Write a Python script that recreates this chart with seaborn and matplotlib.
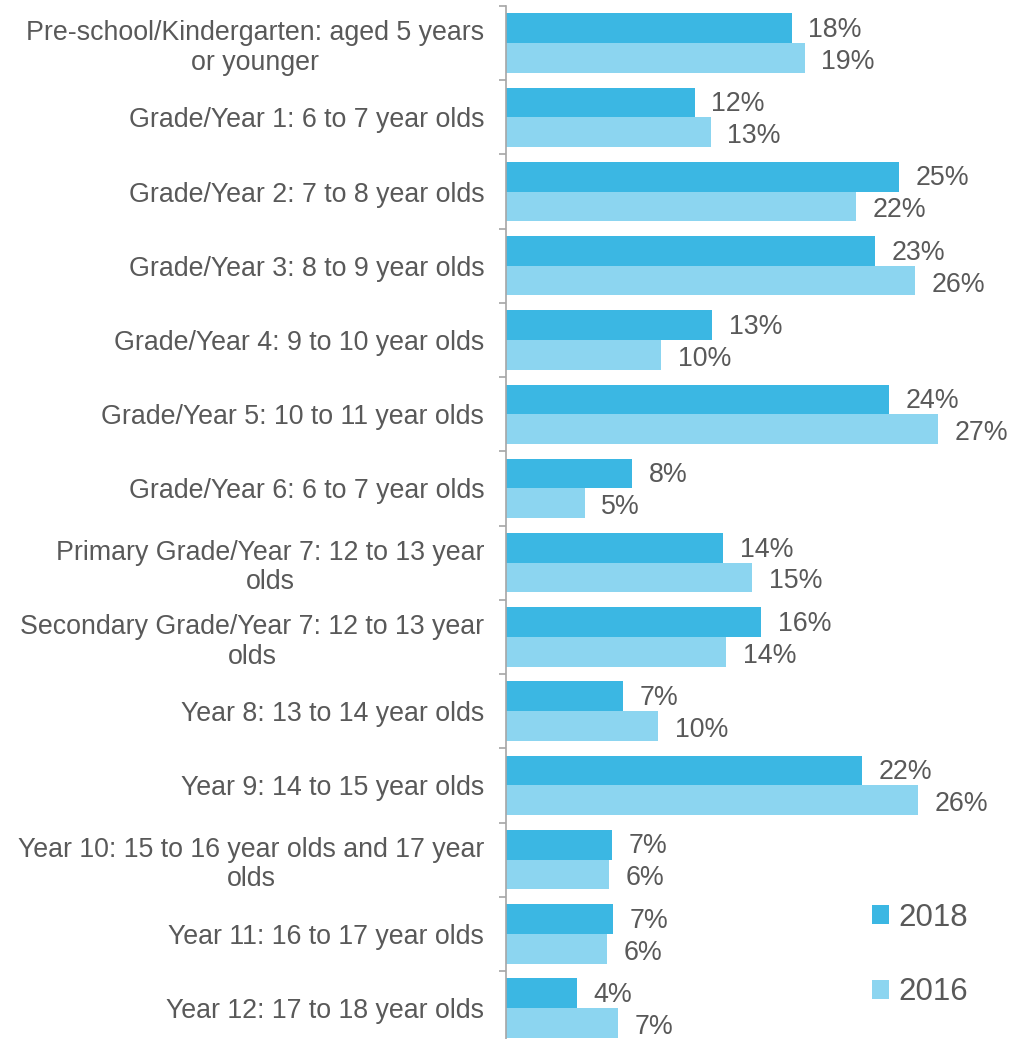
import numpy as np
import pandas as pd
import matplotlib
matplotlib.use("Agg")
from matplotlib import pyplot as plt
from matplotlib.patches import Patch
import seaborn as sns

# Categories (top to bottom)
categories = [
    "Pre-school/Kindergarten: aged 5 years\nor younger",
    "Grade/Year 1: 6 to 7 year olds",
    "Grade/Year 2: 7 to 8 year olds",
    "Grade/Year 3: 8 to 9 year olds",
    "Grade/Year 4: 9 to 10 year olds",
    "Grade/Year 5: 10 to 11 year olds",
    "Grade/Year 6: 6 to 7 year olds",
    "Primary Grade/Year 7: 12 to 13 year\nolds",
    "Secondary Grade/Year 7: 12 to 13 year\nolds",
    "Year 8: 13 to 14 year olds",
    "Year 9: 14 to 15 year olds",
    "Year 10: 15 to 16 year olds and 17 year\nolds",
    "Year 11: 16 to 17 year olds",
    "Year 12: 17 to 18 year olds",
]

# Bar lengths (percent)
share_2018 = [17.9, 11.8, 24.6, 23.1, 12.9, 24.0, 7.9, 13.6, 16.0, 7.3, 22.3, 6.6, 6.7, 4.4]
share_2016 = [18.7, 12.8, 21.9, 25.6, 9.7, 27.1, 4.9, 15.4, 13.8, 9.5, 25.8, 6.4, 6.3, 7.0]

# Value labels as printed on the chart
labels_2018 = ["18%", "12%", "25%", "23%", "13%", "24%", "8%", "14%", "16%", "7%", "22%", "7%", "7%", "4%"]
labels_2016 = ["19%", "13%", "22%", "26%", "10%", "27%", "5%", "15%", "14%", "10%", "26%", "6%", "6%", "7%"]

years = ["2018", "2016"]
colors = ["#3BB7E3", "#8CD5F0"]
grey = "#595959"
axis_grey = "#A6A6A6"

df = pd.DataFrame({
    "category": categories * 2,
    "share": share_2018 + share_2016,
    "year": ["2018"] * len(categories) + ["2016"] * len(categories),
})

sns.set_theme(style="white")
plt.rcParams["font.family"] = ["Liberation Sans", "DejaVu Sans"]

fig = plt.figure(figsize=(10.2, 10.39), dpi=100)
ax = fig.add_axes([506.5 / 1020, -6.2 / 1039, 510 / 1020, 1039.2 / 1039])

sns.barplot(data=df, y="category", x="share", hue="year", hue_order=years,
            palette=colors, orient="h", width=0.8, saturation=1, ax=ax,
            legend=False, linewidth=0)

ax.set_xlim(0, 32)
ax.set_ylim(len(categories) - 0.5, -0.5)

# value labels (2016 labels sit a little lower, as in the original)
for cont, labs, dy in zip(ax.containers, [labels_2018, labels_2016], [-1.2, -2.8]):
    anns = ax.bar_label(cont, labels=labs, padding=12, fontsize=19.3, color=grey)
    for a in anns:
        a.xyann = (12, dy)

# axes styling
for s in ["top", "right", "bottom"]:
    ax.spines[s].set_visible(False)
ax.spines["left"].set_color(axis_grey)
ax.spines["left"].set_linewidth(1.2)
ax.xaxis.set_visible(False)
ax.set_xlabel("")
ax.set_ylabel("")

ax.set_yticks(np.arange(-0.5, len(categories), 1))
ax.set_yticklabels([])
ax.set_yticks(np.arange(len(categories)), minor=True)
ax.set_yticklabels(categories, minor=True, fontsize=19.3, color=grey,
                   ha="right", multialignment="center", linespacing=1.18)
ax.tick_params(axis="y", which="major", length=5, width=1.2, color=axis_grey, left=True)
ax.tick_params(axis="y", which="minor", length=0, pad=16)

# legend
handles = [Patch(facecolor=c, edgecolor="none") for c in colors]
ax.legend(handles, years, loc="center left", bbox_to_anchor=(872 / 1020, 1 - 955 / 1039),
          bbox_transform=fig.transFigure, frameon=False, fontsize=22.5,
          labelcolor=grey, handlelength=0.55, handleheight=0.55,
          handletextpad=0.3, labelspacing=1.42, borderpad=0, borderaxespad=0)

fig.savefig("out.png", dpi=100)
